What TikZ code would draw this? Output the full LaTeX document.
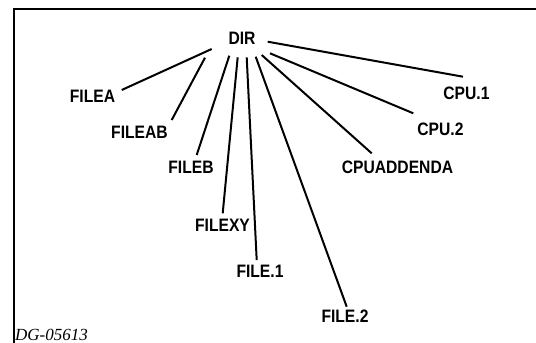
\documentclass[tikz,border=0pt]{standalone}
\usepackage{fontspec}
\setmainfont{Liberation Sans}
\newfontfamily\lblfont[FakeStretch=0.87]{Liberation Sans}
\newfontfamily\dgfont{Liberation Serif}
\begin{document}
\begin{tikzpicture}[x=1pt,y=-1pt,
  lbl/.style={font=\lblfont\bfseries\fontsize{18}{20}\selectfont, inner sep=0pt},
  link/.style={line width=2pt},
  frame/.style={line width=1.4pt}]
\useasboundingbox (0,0) rectangle (536,343);
\fill[white] (0,0) rectangle (536,343);
\coordinate (bl) at (14,343);
\coordinate (tl) at (14,9);
\coordinate (tr) at (536,9);
\draw[frame] (bl) -- (tl) -- (tr);
\node[lbl] (dir) at (242,38) {DIR};
\node[lbl] (filea) at (92.5,96) {FILEA};
\node[lbl] (fileab) at (139.5,132) {FILEAB};
\node[lbl] (fileb) at (191,167) {FILEB};
\node[lbl] (filexy) at (222.5,225) {FILEXY};
\node[lbl] (file1) at (260,271) {FILE.1};
\node[lbl] (file2) at (345,316) {FILE.2};
\node[lbl] (cpuadd) at (397.5,167) {CPUADDENDA};
\node[lbl] (cpu2) at (440.5,129.5) {CPU.2};
\node[lbl] (cpu1) at (466.5,93) {CPU.1};
\node[font=\dgfont\itshape\fontsize{17}{19}\selectfont, anchor=base west, inner sep=0pt] (dg) at (15,340.5) {DG-05613};
% line ends at DIR
\coordinate (s1) at (211.7,49);
\coordinate (s2) at (205,57.7);
\coordinate (s3) at (229.3,55.7);
\coordinate (s4) at (237.7,57.3);
\coordinate (s5) at (246.7,57.3);
\coordinate (s6) at (255.7,56.7);
\coordinate (s7) at (261.7,55);
\coordinate (s8) at (270,53.3);
\coordinate (s9) at (267.7,41.7);
% line ends at the files
\coordinate (e1) at (121.7,90);
\coordinate (e2) at (171.7,120);
\coordinate (e3) at (196.7,155);
\coordinate (e4) at (222.7,213.3);
\coordinate (e5) at (256.7,260);
\coordinate (e6) at (346.7,306.7);
\coordinate (e7) at (371.7,153.3);
\coordinate (e8) at (413.3,113.3);
\coordinate (e9) at (463,76.7);
\foreach \i in {1,...,9} {\draw[link] (s\i) -- (e\i);}
\end{tikzpicture}
\end{document}
